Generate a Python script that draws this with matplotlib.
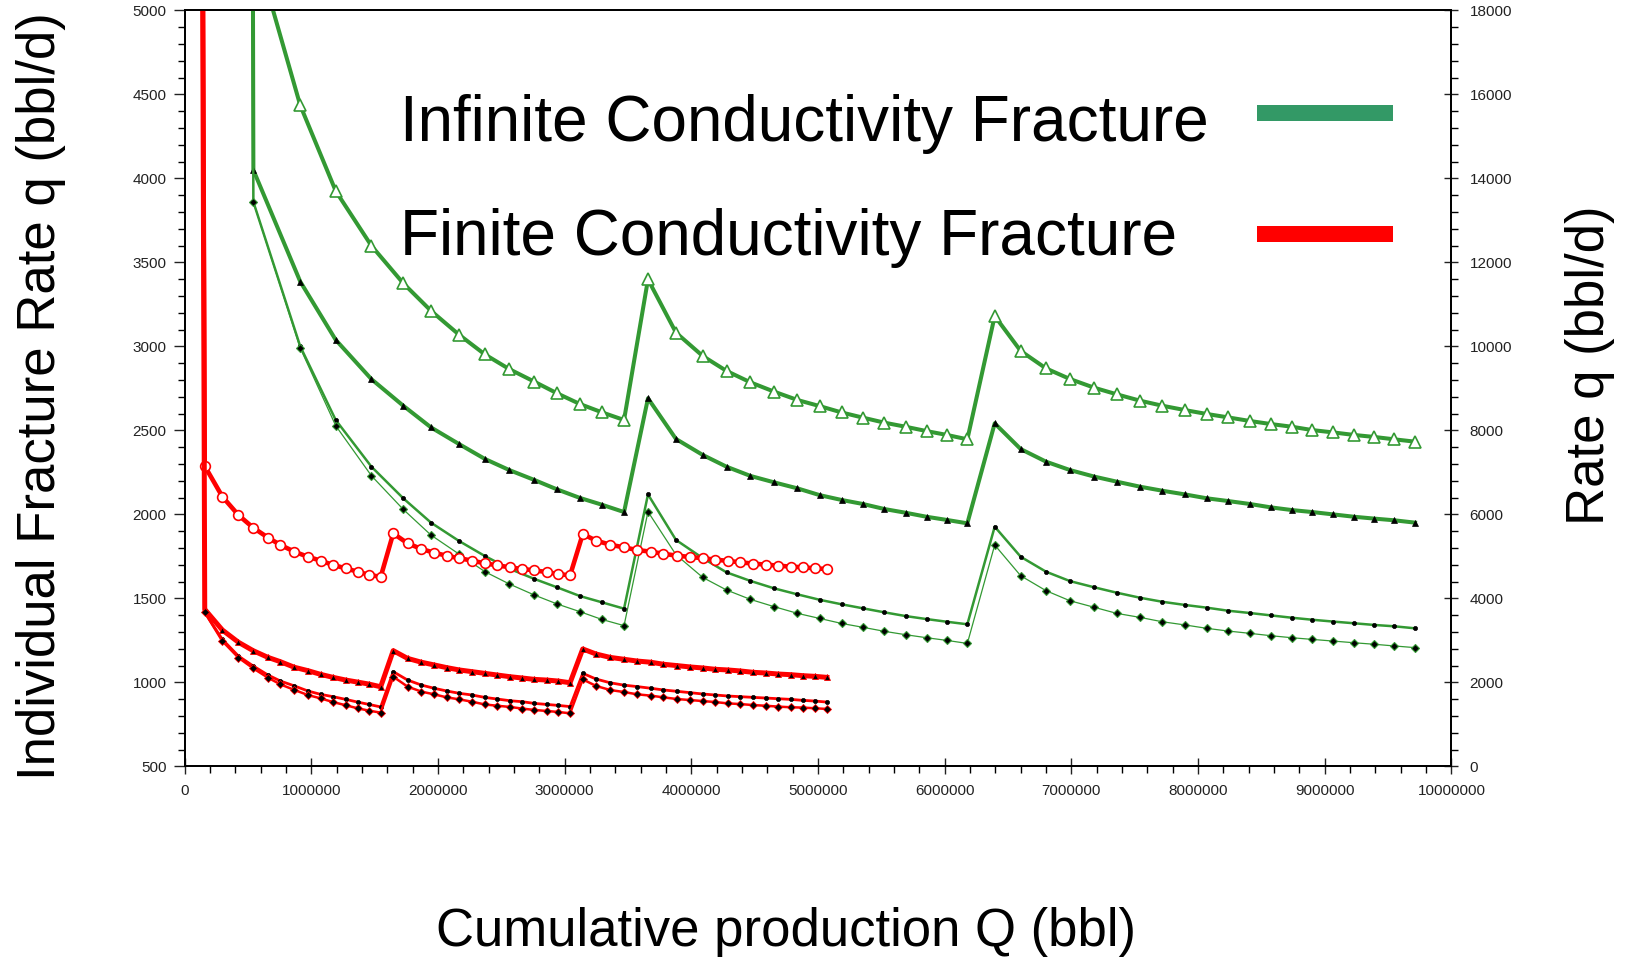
import numpy as np
import matplotlib
matplotlib.use('Agg')
import matplotlib.pyplot as plt
from matplotlib.ticker import MultipleLocator
from matplotlib.patches import Rectangle
from matplotlib.transforms import Bbox, TransformedBbox

# cumulative production Q (bbl), infinite conductivity cases (3 fracture stages)
green_q = [530000, 543000, 913000, 1193000, 1475000, 1726000, 1945000, 2166000, 2371000, 2563000,
           2761000, 2940000, 3121000, 3293000, 3469000,
           3658000, 3879000, 4090000, 4278000, 4467000, 4653000, 4838000, 5012000, 5186000, 5355000,
           5525000, 5691000, 5857000, 6018000, 6179000,
           6395000, 6600000, 6800000, 6989000, 7181000, 7358000, 7542000, 7718000, 7897000, 8068000,
           8234000, 8410000, 8574000, 8740000, 8902000, 9068000, 9232000, 9392000, 9549000, 9713000]
green_open_tri = [8000, 5410, 4435, 3925, 3599, 3376, 3212, 3070, 2952, 2865, 2790, 2721, 2657, 2608, 2562,
                  3399, 3082, 2943, 2854, 2786, 2731, 2681, 2645, 2607, 2576, 2546, 2522, 2496, 2473, 2447,
                  3181, 2973, 2869, 2806, 2754, 2715, 2677, 2647, 2621, 2598, 2578, 2556, 2538, 2522, 2502,
                  2488, 2473, 2461, 2447, 2433]
green_tri = [8000, 4050, 3386, 3039, 2805, 2647, 2518, 2419, 2330, 2264, 2205, 2149, 2098, 2058, 2014,
             2691, 2449, 2354, 2284, 2229, 2191, 2155, 2115, 2086, 2062, 2032, 2010, 1986, 1967, 1947,
             2542, 2389, 2314, 2264, 2225, 2195, 2165, 2141, 2119, 2096, 2080, 2062, 2042, 2026, 2014,
             2000, 1986, 1975, 1965, 1951]
green_dot = [8000, 3860, 3000, 2562, 2284, 2096, 1951, 1842, 1752, 1677, 1616, 1566, 1514, 1477, 1439,
             2119, 1848, 1740, 1655, 1604, 1560, 1524, 1492, 1465, 1441, 1417, 1395, 1377, 1361, 1346,
             1927, 1748, 1659, 1603, 1566, 1534, 1504, 1480, 1461, 1445, 1427, 1413, 1399, 1385, 1373,
             1362, 1352, 1342, 1334, 1322]
green_diamond = [8000, 3860, 2990, 2528, 2230, 2030, 1877, 1764, 1659, 1586, 1520, 1467, 1421, 1375, 1338,
                 2016, 1760, 1625, 1550, 1494, 1451, 1411, 1381, 1351, 1328, 1304, 1284, 1266, 1250, 1232,
                 1818, 1635, 1546, 1486, 1447, 1411, 1387, 1361, 1342, 1322, 1306, 1292, 1278, 1266, 1256,
                 1246, 1236, 1227, 1217, 1207]

# finite conductivity cases
red_q = [130000, 159000, 298000, 425000, 541000, 658000, 757000, 867000, 973000, 1073000, 1172000,
         1272000, 1365000, 1455000, 1548000,
         1647000, 1760000, 1870000, 1970000, 2069000, 2169000, 2269000, 2368000, 2468000, 2568000,
         2667000, 2761000, 2857000, 2950000, 3043000,
         3143000, 3248000, 3358000, 3465000, 3574000, 3681000, 3780000, 3887000, 3990000, 4089000,
         4189000, 4289000, 4388000, 4488000, 4588000, 4684000, 4784000, 4883000, 4976000, 5070000]
red_circle = [8000, 2288, 2106, 1996, 1921, 1862, 1818, 1778, 1748, 1725, 1699, 1679, 1659, 1641, 1628,
              1887, 1828, 1794, 1772, 1754, 1739, 1725, 1709, 1697, 1685, 1675, 1667, 1657, 1645, 1637,
              1883, 1844, 1820, 1804, 1788, 1778, 1766, 1754, 1747, 1739, 1731, 1723, 1715, 1707, 1701,
              1695, 1689, 1685, 1679, 1675]
red_tri = [8000, 1435, 1312, 1239, 1189, 1149, 1123, 1090, 1070, 1048, 1030, 1014, 1002, 990, 974,
           1189, 1143, 1120, 1104, 1088, 1074, 1064, 1054, 1044, 1034, 1026, 1018, 1014, 1008, 998,
           1199, 1169, 1149, 1138, 1127, 1120, 1108, 1100, 1092, 1086, 1078, 1074, 1068, 1060, 1056,
           1050, 1046, 1040, 1036, 1030]
red_dot = [8000, 1417, 1256, 1157, 1098, 1044, 1008, 979, 949, 929, 915, 899, 883, 869, 854,
           1064, 1014, 984, 965, 949, 935, 925, 911, 901, 891, 885, 875, 869, 863, 856,
           1054, 1020, 998, 984, 975, 965, 955, 947, 939, 931, 925, 919, 915, 911, 907,
           903, 899, 893, 889, 883]
red_diamond = [8000, 1417, 1246, 1147, 1084, 1028, 988, 955, 925, 905, 883, 864, 846, 832, 820,
               1034, 975, 945, 929, 911, 899, 885, 869, 861, 854, 844, 836, 830, 824, 816,
               1018, 979, 955, 943, 929, 921, 911, 901, 895, 889, 883, 875, 871, 865, 861,
               856, 852, 850, 846, 842]

x_ticks = [0, 1000000, 2000000, 3000000, 4000000, 5000000, 6000000, 7000000, 8000000, 9000000, 10000000]
left_ticks = [500, 1000, 1500, 2000, 2500, 3000, 3500, 4000, 4500, 5000]
right_ticks = [0, 2000, 4000, 6000, 8000, 10000, 12000, 14000, 16000, 18000]

legend_labels = ['Infinite Conductivity Fracture', 'Finite Conductivity Fracture']


def main():
    plt.rcParams['font.family'] = ['Liberation Sans', 'DejaVu Sans']
    green = '#339933'
    red = '#ff0000'

    fig = plt.figure(figsize=(16.35, 9.58), dpi=100)
    ax = fig.add_axes([0.1129, 0.2, 0.7748, 0.7891])

    # infinite conductivity (green)
    ax.plot(green_q, green_open_tri, '-', color=green, lw=2.9, marker='^', ms=8,
            mfc='white', mec=green, mew=1.2, zorder=3)
    ax.plot(green_q, green_tri, '-', color=green, lw=2.9, marker='^', ms=4.5,
            mfc='black', mec='black', mew=0.5, zorder=3)
    ax.plot(green_q, green_dot, '-', color=green, lw=1.8, marker='o', ms=3,
            mfc='black', mec='black', mew=0.5, zorder=3)
    ax.plot(green_q, green_diamond, '-', color=green, lw=0.9, marker='D', ms=4,
            mfc='black', mec=green, mew=0.8, zorder=3)

    # finite conductivity (red)
    ax.plot(red_q, red_circle, '-', color=red, lw=3.3, marker='o', ms=7,
            mfc='white', mec=red, mew=1.2, zorder=4)
    ax.plot(red_q, red_tri, '-', color=red, lw=3.6, marker='^', ms=5,
            mfc='black', mec=red, mew=0.6, zorder=4)
    ax.plot(red_q, red_dot, '-', color=red, lw=2.0, marker='o', ms=3,
            mfc='black', mec='black', mew=0.5, zorder=4)
    ax.plot(red_q, red_diamond, '-', color=red, lw=1.8, marker='D', ms=4,
            mfc='black', mec=red, mew=0.6, zorder=4)

    ax.set_xlim(0, 10000000)
    ax.set_ylim(500, 5000)
    ax.set_xticks(x_ticks)
    ax.set_xticklabels([str(t) for t in x_ticks])
    ax.set_yticks(left_ticks)
    ax.set_yticklabels([str(t) for t in left_ticks])
    ax.xaxis.set_minor_locator(MultipleLocator(200000))
    ax.yaxis.set_minor_locator(MultipleLocator(100))
    ax.tick_params(axis='x', which='major', direction='inout', length=12, width=1,
                   labelsize=11, pad=7, colors='#222222')
    ax.tick_params(axis='x', which='minor', direction='out', length=5, width=1)
    ax.tick_params(axis='y', which='major', direction='out', length=8, width=1,
                   labelsize=11, pad=5, colors='#222222')
    ax.tick_params(axis='y', which='minor', direction='out', length=5, width=1)
    for sp in ax.spines.values():
        sp.set_linewidth(1.3)

    ax2 = ax.twinx()
    ax2.set_ylim(0, 18000)
    ax2.set_yticks(right_ticks)
    ax2.set_yticklabels([str(t) for t in right_ticks])
    ax2.yaxis.set_minor_locator(MultipleLocator(400))
    ax2.tick_params(axis='y', which='major', direction='inout', length=10, width=1,
                    labelsize=11, pad=8, colors='#222222')
    ax2.tick_params(axis='y', which='minor', direction='out', length=5, width=1)
    for sp in ax2.spines.values():
        sp.set_linewidth(1.3)
    # the right tick labels are cut off in the original
    clip = TransformedBbox(Bbox([[0, 0], [15.167, 9.58]]), fig.dpi_scale_trans)
    for tick in ax2.yaxis.get_major_ticks():
        tick.label2.set_clip_box(clip)
        tick.label2.set_clip_on(True)

    fig.text(0.025, 0.5866, 'Individual Fracture Rate q (bbl/d)', rotation=90,
             ha='center', va='center', fontsize=38)
    fig.text(0.9725, 0.619, 'Rate q (bbl/d)', rotation=90,
             ha='center', va='center', fontsize=38)
    fig.text(0.4808, 0.027, 'Cumulative production Q (bbl)',
             ha='center', va='center', fontsize=38)

    # legend drawn by hand
    fig.text(0.2446, 1 - 141.3 / 958, legend_labels[0], va='baseline', fontsize=46)
    fig.text(0.2446, 1 - 255.0 / 958, legend_labels[1], va='baseline', fontsize=46)
    fig.patches.append(Rectangle((0.769, 0.8737), 0.0828, 0.0167, transform=fig.transFigure,
                                 facecolor='#339966', edgecolor='none'))
    fig.patches.append(Rectangle((0.769, 0.7474), 0.0828, 0.0167, transform=fig.transFigure,
                                 facecolor=red, edgecolor='none'))

    fig.savefig('out.png', dpi=100)


if __name__ == "__main__":
    main()
